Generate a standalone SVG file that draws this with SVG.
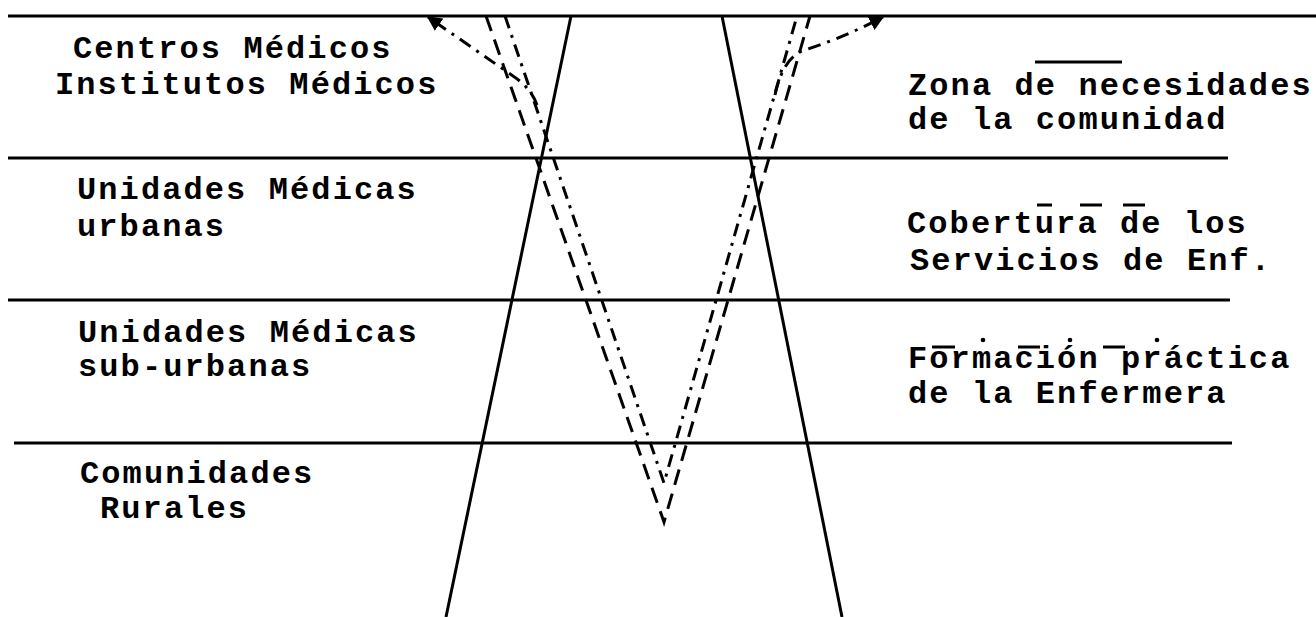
<svg xmlns="http://www.w3.org/2000/svg" width="1316" height="617" viewBox="0 0 1316 617">
<style>
  text { font-family: "Liberation Mono", "DejaVu Sans Mono", monospace; font-weight: bold; font-size: 32px; letter-spacing: 2.1px; fill: #000; }
  .rule { stroke: #000; stroke-width: 3; fill: none; }
  .solid { stroke: #000; stroke-width: 3; fill: none; }
  .dash { stroke: #000; stroke-width: 3; fill: none; stroke-dasharray: 16 9; }
  .dashdot { stroke: #000; stroke-width: 3; fill: none; stroke-dasharray: 13 7 3 7; }
  .leg { stroke: #000; stroke-width: 3; fill: none; }
</style>
<defs>
  <marker id="arrow" viewBox="0 0 10 10" refX="9" refY="5" markerWidth="5" markerHeight="5" orient="auto" markerUnits="strokeWidth">
    <path d="M0,0 L10,5 L0,10 z" fill="#000"/>
  </marker>
</defs>
<rect width="1316" height="617" fill="#fff"/>

<g id="levels">
  <line class="rule" x1="8" y1="16" x2="1316" y2="16"/>
  <line class="rule" x1="8" y1="158" x2="1228" y2="158"/>
  <line class="rule" x1="8" y1="300" x2="1230" y2="300"/>
  <line class="rule" x1="14" y1="443" x2="1232" y2="443"/>
</g>

<g id="level-centros">
  <text x="73" y="58">Centros Médicos</text>
  <text x="55" y="94">Institutos Médicos</text>
</g>
<g id="level-urbanas">
  <text x="77" y="199">Unidades Médicas</text>
  <text x="77" y="236">urbanas</text>
</g>
<g id="level-suburbanas">
  <text x="78" y="342">Unidades Médicas</text>
  <text x="78" y="376">sub-urbanas</text>
</g>
<g id="level-rurales">
  <text x="80" y="483">Comunidades</text>
  <text x="100" y="518">Rurales</text>
</g>

<g id="legend-zona">
  <line class="leg" x1="1035" y1="62" x2="1122" y2="62"/>
  <text x="908" y="95">Zona de necesidades</text>
  <text x="908" y="129">de la comunidad</text>
</g>
<g id="legend-cobertura">
  <line class="leg" x1="1037" y1="205" x2="1052" y2="205"/>
  <line class="leg" x1="1080" y1="205" x2="1102" y2="205"/>
  <line class="leg" x1="1123" y1="205" x2="1145" y2="205"/>
  <text x="907" y="233">Cobertura de los</text>
  <text x="910" y="270">Servicios de Enf.</text>
</g>
<g id="legend-formacion">
  <line class="leg" x1="932" y1="347" x2="955" y2="347"/>
  <circle cx="983" cy="340" r="2.3" fill="#000"/>
  <line class="leg" x1="1018" y1="347" x2="1040" y2="347"/>
  <circle cx="1070" cy="340" r="2.3" fill="#000"/>
  <line class="leg" x1="1103" y1="347" x2="1125" y2="347"/>
  <circle cx="1157" cy="340" r="2.3" fill="#000"/>
  <text x="908" y="368">Formación práctica</text>
  <text x="908" y="403">de la Enfermera</text>
</g>

<g id="connectors">
  <line class="solid" x1="571" y1="16" x2="446" y2="617"/>
  <line class="solid" x1="722" y1="16" x2="842" y2="617"/>
  <polyline class="dash" points="486,16 664,522 810,16"/>
  <polyline class="dashdot" points="505,16 664,483 797,16"/>
  <path class="dashdot" d="M537,105 Q531,88 513,76 L428,17" marker-end="url(#arrow)"/>
  <path class="dashdot" d="M775,95 Q783,57 805,50 Q845,37 883,17" marker-end="url(#arrow)"/>
</g>
</svg>
